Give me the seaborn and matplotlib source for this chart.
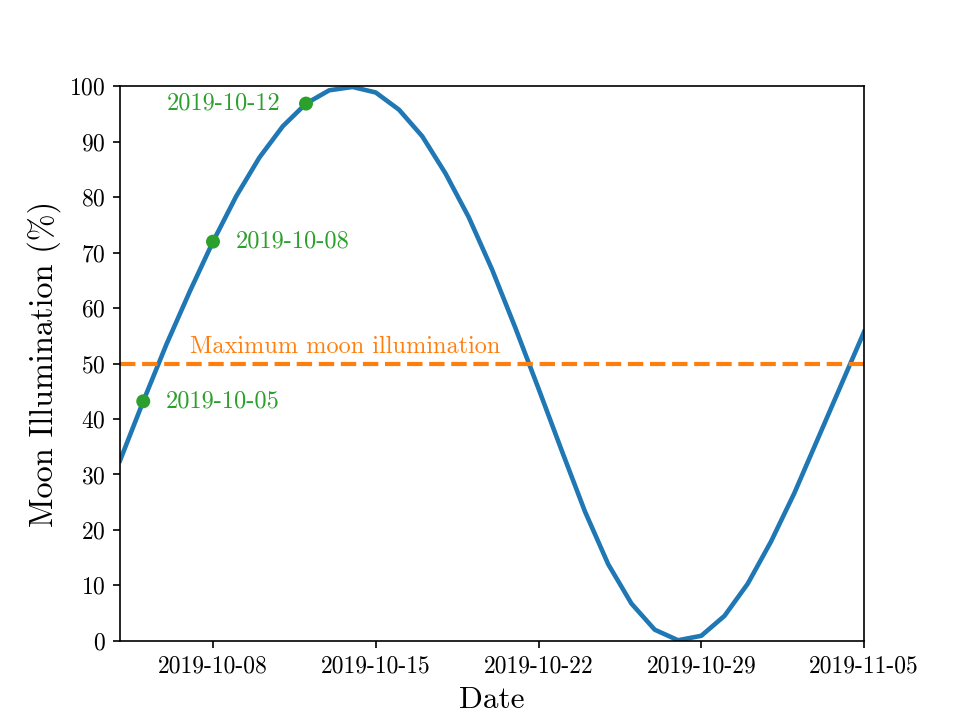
import pandas as pd
import matplotlib.pyplot as plt
import matplotlib.dates as mdates
import seaborn as sns

# daily moon illumination
dates = pd.date_range("2019-10-04", "2019-11-05", freq="D")
illumination = [32.5, 43.2, 53.5, 63.0, 72.0, 80.2, 87.2, 92.8, 96.9, 99.3,
                99.9, 98.9, 95.8, 91.0, 84.3, 76.4, 67.0, 56.5, 45.5, 34.3,
                23.3, 13.8, 6.7, 2.0, 0.1, 0.9, 4.5, 10.3, 17.9, 26.6,
                36.3, 46.0, 55.7]

marked_dates = ["2019-10-05", "2019-10-08", "2019-10-12"]
marked_offsets = [(11, 0), (11, 0), (-12, 0)]
marked_align = ["left", "left", "right"]

tick_dates = ["2019-10-08", "2019-10-15", "2019-10-22", "2019-10-29", "2019-11-05"]
threshold = 50

df = pd.DataFrame({"date": dates, "illum": illumination})
df_marked = df[df["date"].isin(pd.to_datetime(marked_dates))]

plt.rcParams["font.family"] = ["cmr10", "DejaVu Serif"]
plt.rcParams["mathtext.fontset"] = "cm"
plt.rcParams["axes.formatter.use_mathtext"] = True

fig, ax = plt.subplots(figsize=(6.4, 4.8), dpi=150)

sns.lineplot(data=df, x="date", y="illum", color="tab:blue", linewidth=2.2, ax=ax)
ax.axhline(threshold, color="tab:orange", linestyle="--", linewidth=2)
ax.text(pd.Timestamp("2019-10-07"), threshold + 1.0, "Maximum moon illumination",
        color="tab:orange", fontsize=11.7, va="bottom", ha="left")

sns.scatterplot(data=df_marked, x="date", y="illum", color="tab:green", s=45,
                edgecolor="none", zorder=3, ax=ax)
for (d, v), off, ha in zip(df_marked[["date", "illum"]].values, marked_offsets, marked_align):
    ax.annotate(pd.Timestamp(d).strftime("%Y-%m-%d"), (d, v), xytext=off,
                textcoords="offset points", ha=ha, va="center",
                color="tab:green", fontsize=11.7)

ax.set_xlim(pd.Timestamp("2019-10-04"), pd.Timestamp("2019-11-05"))
ax.set_ylim(0, 100)
ax.set_yticks(range(0, 101, 10))
ax.set_xticks(pd.to_datetime(tick_dates))
ax.xaxis.set_major_formatter(mdates.DateFormatter("%Y-%m-%d"))
ax.tick_params(labelsize=11.3)
ax.set_xlabel("Date", fontsize=15)
ax.set_ylabel("Moon Illumination (%)", fontsize=15.5)

plt.savefig("out.png", dpi=150)
